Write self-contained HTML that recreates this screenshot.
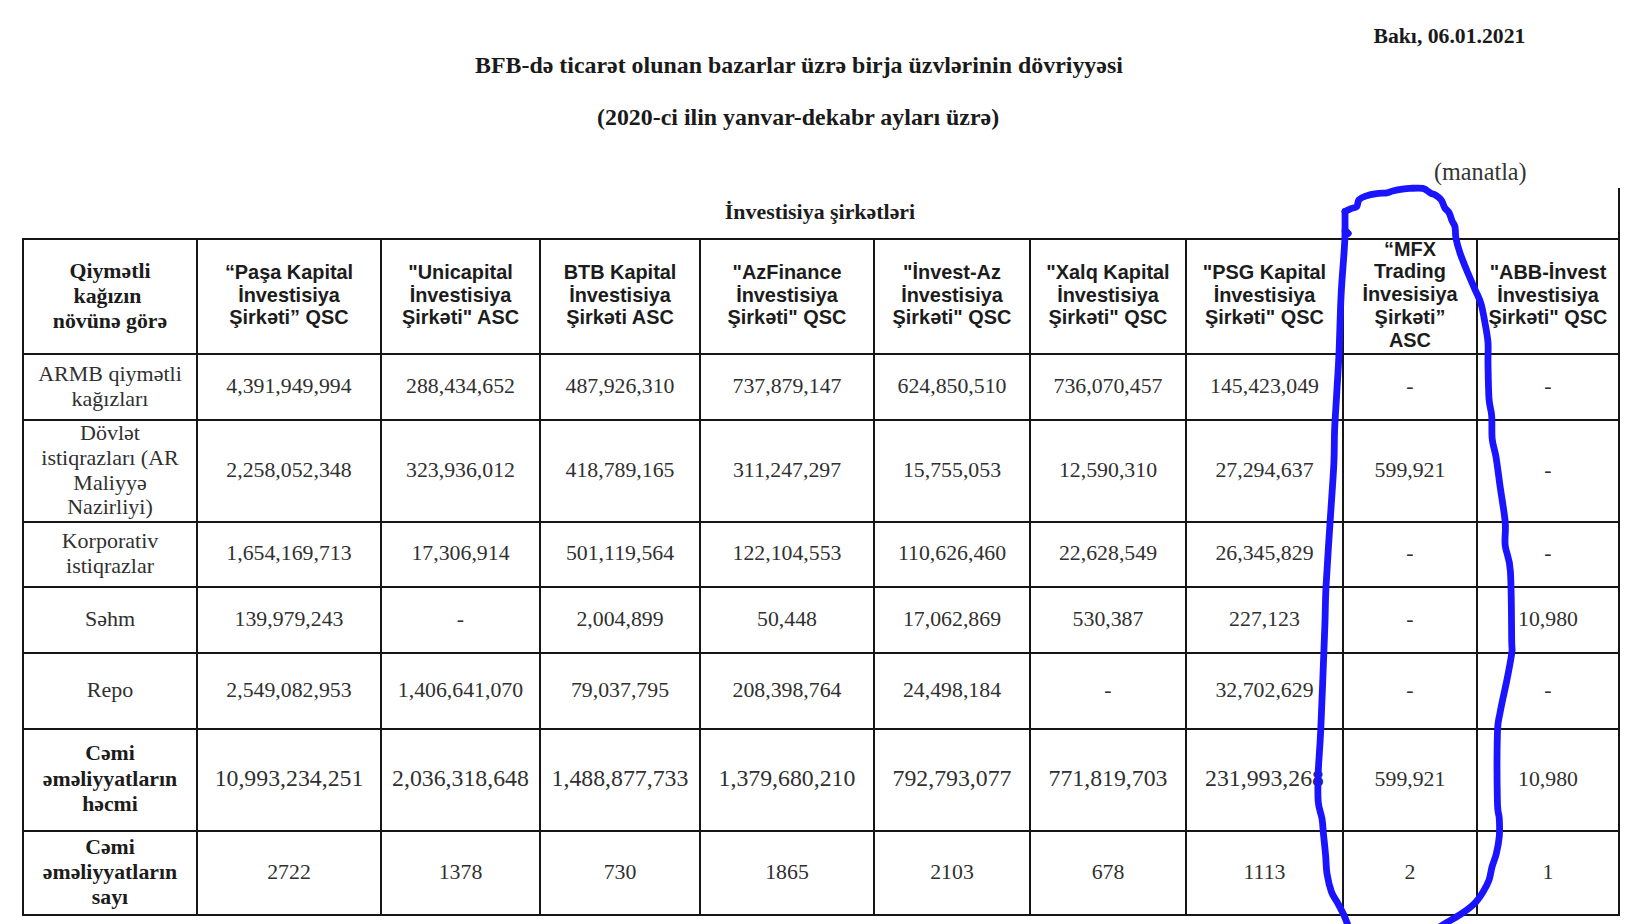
<!DOCTYPE html><html><head><meta charset="utf-8"><title>BFB</title><style>
*{margin:0;padding:0;box-sizing:border-box}
html,body{width:1638px;height:924px;overflow:hidden;background:#fff}
body{position:relative;color:#1a1a1a;font-family:"Liberation Serif", serif}
#pg{position:absolute;left:0;top:0;width:1638px;height:924px}
.t{position:absolute;white-space:nowrap}
.l{position:absolute;background:#161616}
.c{position:absolute;display:flex;align-items:center;justify-content:center;text-align:center;white-space:nowrap}
.serif{font-family:"Liberation Serif", serif;font-size:22px;line-height:24.9px;color:#303030}
.serif-b{font-family:"Liberation Serif", serif;font-weight:bold;font-size:21.8px;line-height:24.9px;color:#1c1c1c}
.sans-b{font-family:"Liberation Sans", sans-serif;font-weight:bold;font-size:19.9px;line-height:22.75px;color:#1c1c1c}
.num{font-family:"Liberation Serif", serif;font-size:21.8px;line-height:25px;color:#303030}
.big{font-size:23.8px}
.c>div{position:relative}
</style></head><body><div id="pg">
<div class="t" style="left:1373.5px;top:24px;font-weight:bold;font-size:21.7px;line-height:24px">Bakı, 06.01.2021</div>
<div class="t" style="left:475px;top:52px;font-weight:bold;font-size:23.9px;line-height:27px">BFB-də ticarət olunan bazarlar üzrə birja üzvlərinin dövriyyəsi</div>
<div class="t" style="left:597px;top:103.5px;font-weight:bold;font-size:23.9px;line-height:27px">(2020-ci ilin yanvar-dekabr ayları üzrə)</div>
<div class="t" style="left:1434px;top:158px;font-size:24.2px;line-height:27px;color:#333">(manatla)</div>
<div class="c serif-b" style="left:22px;top:188px;width:1596px;height:48px;font-size:21.9px">İnvestisiya şirkətləri</div>
<div class="l" style="left:22px;top:238px;width:1598px;height:2px"></div>
<div class="l" style="left:22px;top:353px;width:1598px;height:2px"></div>
<div class="l" style="left:22px;top:419px;width:1598px;height:2px"></div>
<div class="l" style="left:22px;top:521px;width:1598px;height:2px"></div>
<div class="l" style="left:22px;top:586px;width:1598px;height:2px"></div>
<div class="l" style="left:22px;top:652px;width:1598px;height:2px"></div>
<div class="l" style="left:22px;top:728px;width:1598px;height:2px"></div>
<div class="l" style="left:22px;top:830px;width:1598px;height:2px"></div>
<div class="l" style="left:22px;top:914px;width:1598px;height:2px"></div>
<div class="l" style="left:22px;top:238px;width:2px;height:678px"></div>
<div class="l" style="left:196px;top:238px;width:2px;height:678px"></div>
<div class="l" style="left:380px;top:238px;width:2px;height:678px"></div>
<div class="l" style="left:539px;top:238px;width:2px;height:678px"></div>
<div class="l" style="left:699px;top:238px;width:2px;height:678px"></div>
<div class="l" style="left:873px;top:238px;width:2px;height:678px"></div>
<div class="l" style="left:1029px;top:238px;width:2px;height:678px"></div>
<div class="l" style="left:1185px;top:238px;width:2px;height:678px"></div>
<div class="l" style="left:1342px;top:238px;width:2px;height:678px"></div>
<div class="l" style="left:1476px;top:238px;width:2px;height:678px"></div>
<div class="l" style="left:1618px;top:238px;width:2px;height:678px"></div>
<div class="l" style="left:1618px;top:188px;width:2px;height:50px"></div>
<div class="c serif-b" style="left:24px;top:240px;width:172px;height:113px"><div style="top:0px;">Qiymətli<br>kağızın<span style="display:inline-block;width:5px"></span><br>növünə görə</div></div>
<div class="c sans-b" style="left:198px;top:240px;width:182px;height:113px"><div style="top:-1.5px;">“Paşa Kapital<br>İnvestisiya<br>Şirkəti” QSC</div></div>
<div class="c sans-b" style="left:382px;top:240px;width:157px;height:113px"><div style="top:-1.5px;">"Unicapital<br>İnvestisiya<br>Şirkəti" ASC</div></div>
<div class="c sans-b" style="left:541px;top:240px;width:158px;height:113px"><div style="top:-1.5px;">BTB Kapital<br>İnvestisiya<br>Şirkəti ASC</div></div>
<div class="c sans-b" style="left:701px;top:240px;width:172px;height:113px"><div style="top:-1.5px;">"AzFinance<br>İnvestisiya<br>Şirkəti" QSC</div></div>
<div class="c sans-b" style="left:875px;top:240px;width:154px;height:113px"><div style="top:-1.5px;">"İnvest-Az<br>İnvestisiya<br>Şirkəti" QSC</div></div>
<div class="c sans-b" style="left:1031px;top:240px;width:154px;height:113px"><div style="top:-1.5px;">"Xalq Kapital<br>İnvestisiya<br>Şirkəti" QSC</div></div>
<div class="c sans-b" style="left:1187px;top:240px;width:155px;height:113px"><div style="top:-1.5px;">"PSG Kapital<br>İnvestisiya<br>Şirkəti" QSC</div></div>
<div class="c sans-b" style="left:1344px;top:240px;width:132px;height:113px"><div style="top:-2px;">“MFX<br>Trading<br>İnvesisiya<br>Şirkəti”<br>ASC</div></div>
<div class="c sans-b" style="left:1478px;top:240px;width:140px;height:113px"><div style="top:-1.5px;">"ABB-İnvest<br>İnvestisiya<br>Şirkəti" QSC</div></div>
<div class="c serif" style="left:24px;top:355px;width:172px;height:64px"><div style="top:-0.5px;">ARMB qiymətli<br>kağızları</div></div>
<div class="c num" style="left:198px;top:355px;width:182px;height:64px"><div style="top:-1px;">4,391,949,994</div></div>
<div class="c num" style="left:382px;top:355px;width:157px;height:64px"><div style="top:-1px;">288,434,652</div></div>
<div class="c num" style="left:541px;top:355px;width:158px;height:64px"><div style="top:-1px;">487,926,310</div></div>
<div class="c num" style="left:701px;top:355px;width:172px;height:64px"><div style="top:-1px;">737,879,147</div></div>
<div class="c num" style="left:875px;top:355px;width:154px;height:64px"><div style="top:-1px;">624,850,510</div></div>
<div class="c num" style="left:1031px;top:355px;width:154px;height:64px"><div style="top:-1px;">736,070,457</div></div>
<div class="c num" style="left:1187px;top:355px;width:155px;height:64px"><div style="top:-1px;">145,423,049</div></div>
<div class="c num" style="left:1344px;top:355px;width:132px;height:64px"><div style="top:-1px;">-</div></div>
<div class="c num" style="left:1478px;top:355px;width:140px;height:64px"><div style="top:-1px;">-</div></div>
<div class="c serif" style="left:24px;top:421px;width:172px;height:100px"><div style="top:-0.5px;">Dövlət<br>istiqrazları (AR<br>Maliyyə<br>Nazirliyi)</div></div>
<div class="c num" style="left:198px;top:421px;width:182px;height:100px"><div style="top:-1px;">2,258,052,348</div></div>
<div class="c num" style="left:382px;top:421px;width:157px;height:100px"><div style="top:-1px;">323,936,012</div></div>
<div class="c num" style="left:541px;top:421px;width:158px;height:100px"><div style="top:-1px;">418,789,165</div></div>
<div class="c num" style="left:701px;top:421px;width:172px;height:100px"><div style="top:-1px;">311,247,297</div></div>
<div class="c num" style="left:875px;top:421px;width:154px;height:100px"><div style="top:-1px;">15,755,053</div></div>
<div class="c num" style="left:1031px;top:421px;width:154px;height:100px"><div style="top:-1px;">12,590,310</div></div>
<div class="c num" style="left:1187px;top:421px;width:155px;height:100px"><div style="top:-1px;">27,294,637</div></div>
<div class="c num" style="left:1344px;top:421px;width:132px;height:100px"><div style="top:-1px;">599,921</div></div>
<div class="c num" style="left:1478px;top:421px;width:140px;height:100px"><div style="top:-1px;">-</div></div>
<div class="c serif" style="left:24px;top:523px;width:172px;height:63px"><div style="top:-0.5px;">Korporativ<br>istiqrazlar</div></div>
<div class="c num" style="left:198px;top:523px;width:182px;height:63px"><div style="top:-1px;">1,654,169,713</div></div>
<div class="c num" style="left:382px;top:523px;width:157px;height:63px"><div style="top:-1px;">17,306,914</div></div>
<div class="c num" style="left:541px;top:523px;width:158px;height:63px"><div style="top:-1px;">501,119,564</div></div>
<div class="c num" style="left:701px;top:523px;width:172px;height:63px"><div style="top:-1px;">122,104,553</div></div>
<div class="c num" style="left:875px;top:523px;width:154px;height:63px"><div style="top:-1px;">110,626,460</div></div>
<div class="c num" style="left:1031px;top:523px;width:154px;height:63px"><div style="top:-1px;">22,628,549</div></div>
<div class="c num" style="left:1187px;top:523px;width:155px;height:63px"><div style="top:-1px;">26,345,829</div></div>
<div class="c num" style="left:1344px;top:523px;width:132px;height:63px"><div style="top:-1px;">-</div></div>
<div class="c num" style="left:1478px;top:523px;width:140px;height:63px"><div style="top:-1px;">-</div></div>
<div class="c serif" style="left:24px;top:588px;width:172px;height:64px"><div style="top:-0.5px;">Səhm</div></div>
<div class="c num" style="left:198px;top:588px;width:182px;height:64px"><div style="top:-1px;">139,979,243</div></div>
<div class="c num" style="left:382px;top:588px;width:157px;height:64px"><div style="top:-1px;">-</div></div>
<div class="c num" style="left:541px;top:588px;width:158px;height:64px"><div style="top:-1px;">2,004,899</div></div>
<div class="c num" style="left:701px;top:588px;width:172px;height:64px"><div style="top:-1px;">50,448</div></div>
<div class="c num" style="left:875px;top:588px;width:154px;height:64px"><div style="top:-1px;">17,062,869</div></div>
<div class="c num" style="left:1031px;top:588px;width:154px;height:64px"><div style="top:-1px;">530,387</div></div>
<div class="c num" style="left:1187px;top:588px;width:155px;height:64px"><div style="top:-1px;">227,123</div></div>
<div class="c num" style="left:1344px;top:588px;width:132px;height:64px"><div style="top:-1px;">-</div></div>
<div class="c num" style="left:1478px;top:588px;width:140px;height:64px"><div style="top:-1px;">10,980</div></div>
<div class="c serif" style="left:24px;top:654px;width:172px;height:74px"><div style="top:-0.5px;">Repo</div></div>
<div class="c num" style="left:198px;top:654px;width:182px;height:74px"><div style="top:-1px;">2,549,082,953</div></div>
<div class="c num" style="left:382px;top:654px;width:157px;height:74px"><div style="top:-1px;">1,406,641,070</div></div>
<div class="c num" style="left:541px;top:654px;width:158px;height:74px"><div style="top:-1px;">79,037,795</div></div>
<div class="c num" style="left:701px;top:654px;width:172px;height:74px"><div style="top:-1px;">208,398,764</div></div>
<div class="c num" style="left:875px;top:654px;width:154px;height:74px"><div style="top:-1px;">24,498,184</div></div>
<div class="c num" style="left:1031px;top:654px;width:154px;height:74px"><div style="top:-1px;">-</div></div>
<div class="c num" style="left:1187px;top:654px;width:155px;height:74px"><div style="top:-1px;">32,702,629</div></div>
<div class="c num" style="left:1344px;top:654px;width:132px;height:74px"><div style="top:-1px;">-</div></div>
<div class="c num" style="left:1478px;top:654px;width:140px;height:74px"><div style="top:-1px;">-</div></div>
<div class="c serif-b" style="left:24px;top:730px;width:172px;height:100px"><div style="top:-0.5px;line-height:25.8px">Cəmi<br>əməliyyatların<br>həcmi</div></div>
<div class="c num big" style="left:198px;top:730px;width:182px;height:100px"><div style="top:-2px;">10,993,234,251</div></div>
<div class="c num big" style="left:382px;top:730px;width:157px;height:100px"><div style="top:-2px;">2,036,318,648</div></div>
<div class="c num big" style="left:541px;top:730px;width:158px;height:100px"><div style="top:-2px;">1,488,877,733</div></div>
<div class="c num big" style="left:701px;top:730px;width:172px;height:100px"><div style="top:-2px;">1,379,680,210</div></div>
<div class="c num big" style="left:875px;top:730px;width:154px;height:100px"><div style="top:-2px;">792,793,077</div></div>
<div class="c num big" style="left:1031px;top:730px;width:154px;height:100px"><div style="top:-2px;">771,819,703</div></div>
<div class="c num big" style="left:1187px;top:730px;width:155px;height:100px"><div style="top:-2px;">231,993,268</div></div>
<div class="c num" style="left:1344px;top:730px;width:132px;height:100px"><div style="top:-1px;">599,921</div></div>
<div class="c num" style="left:1478px;top:730px;width:140px;height:100px"><div style="top:-1px;">10,980</div></div>
<div class="c serif-b" style="left:24px;top:832px;width:172px;height:82px"><div style="top:-0.5px;line-height:25.3px">Cəmi<br>əməliyyatların<br>sayı</div></div>
<div class="c num" style="left:198px;top:832px;width:182px;height:82px"><div style="top:-1px;">2722</div></div>
<div class="c num" style="left:382px;top:832px;width:157px;height:82px"><div style="top:-1px;">1378</div></div>
<div class="c num" style="left:541px;top:832px;width:158px;height:82px"><div style="top:-1px;">730</div></div>
<div class="c num" style="left:701px;top:832px;width:172px;height:82px"><div style="top:-1px;">1865</div></div>
<div class="c num" style="left:875px;top:832px;width:154px;height:82px"><div style="top:-1px;">2103</div></div>
<div class="c num" style="left:1031px;top:832px;width:154px;height:82px"><div style="top:-1px;">678</div></div>
<div class="c num" style="left:1187px;top:832px;width:155px;height:82px"><div style="top:-1px;">1113</div></div>
<div class="c num" style="left:1344px;top:832px;width:132px;height:82px"><div style="top:-1px;">2</div></div>
<div class="c num" style="left:1478px;top:832px;width:140px;height:82px"><div style="top:-1px;">1</div></div>
<svg style="position:absolute;left:0;top:0" width="1638" height="924" viewBox="0 0 1638 924"><g fill="none" stroke="#1a14ff" stroke-width="6.8" stroke-linecap="round" stroke-linejoin="round"><path d="M1345.0,211.5 C1346.0,211.0 1349.0,209.4 1351.0,208.6 C1353.0,207.8 1355.5,207.9 1356.8,206.4 C1358.1,204.9 1357.5,201.5 1359.0,199.8 C1360.5,198.1 1362.7,197.1 1365.6,196.1 C1368.5,195.1 1373.0,194.1 1376.6,193.6 C1380.1,193.1 1384.2,193.2 1386.9,192.8 C1389.6,192.4 1390.1,191.6 1392.7,191.0 C1395.3,190.4 1399.5,189.6 1402.3,189.2 C1405.1,188.8 1406.2,188.5 1409.6,188.4 C1413.0,188.3 1419.3,187.6 1422.8,188.4 C1426.3,189.2 1428.7,192.1 1430.8,193.2 C1432.9,194.3 1433.5,193.9 1435.2,195.0 C1436.9,196.1 1439.5,197.7 1441.1,199.8 C1442.7,201.9 1443.4,205.6 1444.8,207.8 C1446.2,210.0 1448.0,210.8 1449.2,213.0 C1450.4,215.2 1451.1,218.7 1452.1,221.0 C1453.1,223.3 1454.3,224.0 1455.0,226.9 C1455.7,229.8 1455.1,234.2 1456.0,238.7 C1456.9,243.2 1458.3,248.0 1460.3,253.8 C1462.3,259.6 1465.5,267.2 1468.0,273.3 C1470.5,279.4 1473.3,285.6 1475.5,290.6 C1477.7,295.7 1479.4,298.2 1481.0,303.6 C1482.6,309.0 1483.8,316.5 1485.0,323.0 C1486.2,329.5 1487.5,335.7 1488.0,342.6 C1488.5,349.5 1487.8,354.8 1488.0,364.2 C1488.2,373.6 1488.4,390.2 1489.0,398.8 C1489.6,407.4 1491.2,409.3 1491.7,416.0 C1492.2,422.7 1491.5,432.2 1492.2,439.0 C1492.9,445.8 1494.7,449.2 1496.0,457.0 C1497.3,464.8 1498.5,474.9 1500.0,485.7 C1501.5,496.5 1504.3,512.0 1505.2,522.0 C1506.1,532.0 1504.3,537.3 1505.2,545.5 C1506.1,553.7 1509.3,555.6 1510.4,571.4 C1511.5,587.1 1511.5,626.3 1511.7,640.0 C1511.9,653.7 1512.6,646.4 1511.7,653.4 C1510.8,660.4 1508.5,672.1 1506.5,682.0 C1504.5,691.9 1501.5,704.3 1500.0,713.0 C1498.5,721.7 1497.8,719.3 1497.4,734.0 C1497.0,748.7 1497.1,787.3 1497.4,801.4 C1497.7,815.5 1499.0,812.9 1499.3,818.7 C1499.6,824.5 1499.8,830.4 1499.3,836.2 C1498.8,842.1 1497.5,848.7 1496.3,853.8 C1495.1,858.9 1493.2,862.6 1492.0,867.0 C1490.8,871.4 1490.5,876.0 1489.0,880.2 C1487.5,884.4 1485.4,888.1 1483.0,892.0 C1480.6,895.9 1478.0,900.0 1474.4,903.6 C1470.8,907.2 1465.9,910.7 1461.2,913.9 C1456.5,917.1 1450.4,920.4 1446.5,922.7 C1442.6,925.1 1439.4,927.1 1438.0,928.0"/><path d="M1345.0,211.5 C1345.0,214.8 1345.1,225.0 1345.0,231.0 C1344.9,237.0 1345.1,236.6 1344.4,247.3 C1343.8,258.0 1342.0,277.3 1341.1,295.0 C1340.2,312.7 1339.7,337.2 1339.0,353.4 C1338.3,369.6 1337.5,379.5 1336.8,392.3 C1336.1,405.1 1335.1,417.9 1334.6,430.0 C1334.1,442.1 1334.6,449.2 1333.8,465.0 C1333.0,480.8 1331.2,504.4 1329.9,524.7 C1328.6,545.0 1326.9,569.5 1326.0,587.0 C1325.1,604.5 1325.6,606.4 1324.7,630.0 C1323.8,653.6 1321.9,704.9 1320.8,728.7 C1319.7,752.5 1318.6,760.8 1318.2,772.9 C1317.8,785.0 1317.6,793.8 1318.2,801.4 C1318.8,809.0 1321.1,813.4 1322.0,818.7 C1322.9,824.0 1322.8,827.2 1323.4,833.3 C1324.0,839.4 1325.0,848.5 1325.6,855.3 C1326.2,862.1 1326.1,868.2 1327.1,874.3 C1328.1,880.4 1329.7,887.1 1331.5,892.0 C1333.3,896.9 1335.9,899.7 1338.0,903.6 C1340.1,907.5 1342.2,911.3 1344.0,915.4 C1345.8,919.5 1348.2,925.9 1349.0,928.0"/><path d="M1345.2,230.5 L1348.3,233.5"/></g></svg>
</div></body></html>
